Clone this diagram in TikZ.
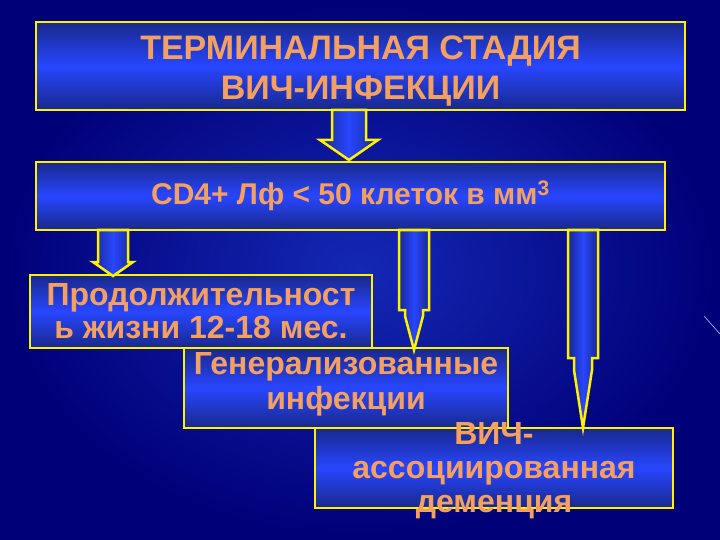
\documentclass[tikz,border=0pt]{standalone}
\usepackage{fontspec}
\setmainfont{Liberation Sans}
\definecolor{bgd}{HTML}{000078}
\definecolor{bgl}{HTML}{1428B4}
\definecolor{boxd}{HTML}{18288C}
\definecolor{boxl}{HTML}{2846FF}
\definecolor{ylw}{HTML}{FFF200}
\definecolor{org}{HTML}{F4A060}
\tikzset{
  x=1pt,y=-1pt,
  box/.style={draw=ylw,line width=2.5pt,top color=boxd,bottom color=boxd,middle color=boxl,inner sep=0pt},
  txt/.style={text=org,font=\bfseries,align=center},
  barrow/.style={draw=ylw,line width=2.5pt,left color=boxd,right color=boxd,middle color=boxl,line join=miter},
}
\begin{document}
\begin{tikzpicture}
\shade[inner color=bgl,outer color=bgd] (0,0) rectangle (720,540);
\useasboundingbox (0,0) rectangle (720,540);
\draw[white!70!blue,line width=0.6pt] (704,316) -- (720,334);
% boxes
\node[box,minimum width=649pt,minimum height=88pt] (b1) at (360.5,66) {};
\node[txt,font=\bfseries\fontsize{34}{40}\selectfont] at (360.5,71) {ТЕРМИНАЛЬНАЯ СТАДИЯ\\ВИЧ-ИНФЕКЦИИ};
\node[box,minimum width=629pt,minimum height=68pt] (b2) at (350.5,196) {};
\node[txt,font=\bfseries\fontsize{30}{36}\selectfont] at (b2) {CD4+ Лф < 50 клеток в мм$^{\mathbf 3}$};
\node[box,minimum width=342pt,minimum height=73pt] (b3) at (201,311.5) {};
\node[txt,font=\bfseries\fontsize{32}{33}\selectfont] at (b3) {Продолжительност\\ь жизни 12-18 мес.};
\node[box,minimum width=324pt,minimum height=80pt] (b4) at (346,388) {};
\node[box,minimum width=358pt,minimum height=80pt] (b5) at (494,468) {};
\node[txt,font=\bfseries\fontsize{32}{35}\selectfont] at (346,384) {Генерализованные\\инфекции};
\node[txt,font=\bfseries\fontsize{32}{34}\selectfont] at (494,471) {ВИЧ-\\ассоциированная\\деменция};
% block arrows
\draw[barrow] (332,110) -- (366,110) -- (366,140) -- (378,140) -- (349,160) -- (320,140) -- (332,140) -- cycle;
\draw[barrow] (98,230) -- (128,230) -- (128,262) -- (133,262) -- (113,276) -- (93,262) -- (98,262) -- cycle;
\draw[barrow] (399,230) -- (429,230) -- (429,310) -- (423,310) -- (423,316) -- (414,350) -- (405,316) -- (405,310) -- (399,310) -- cycle;
\draw[barrow] (568,230) -- (598,230) -- (598,358) -- (592,358) -- (592,370) -- (583,428) -- (574,370) -- (574,358) -- (568,358) -- cycle;
\end{tikzpicture}
\end{document}
